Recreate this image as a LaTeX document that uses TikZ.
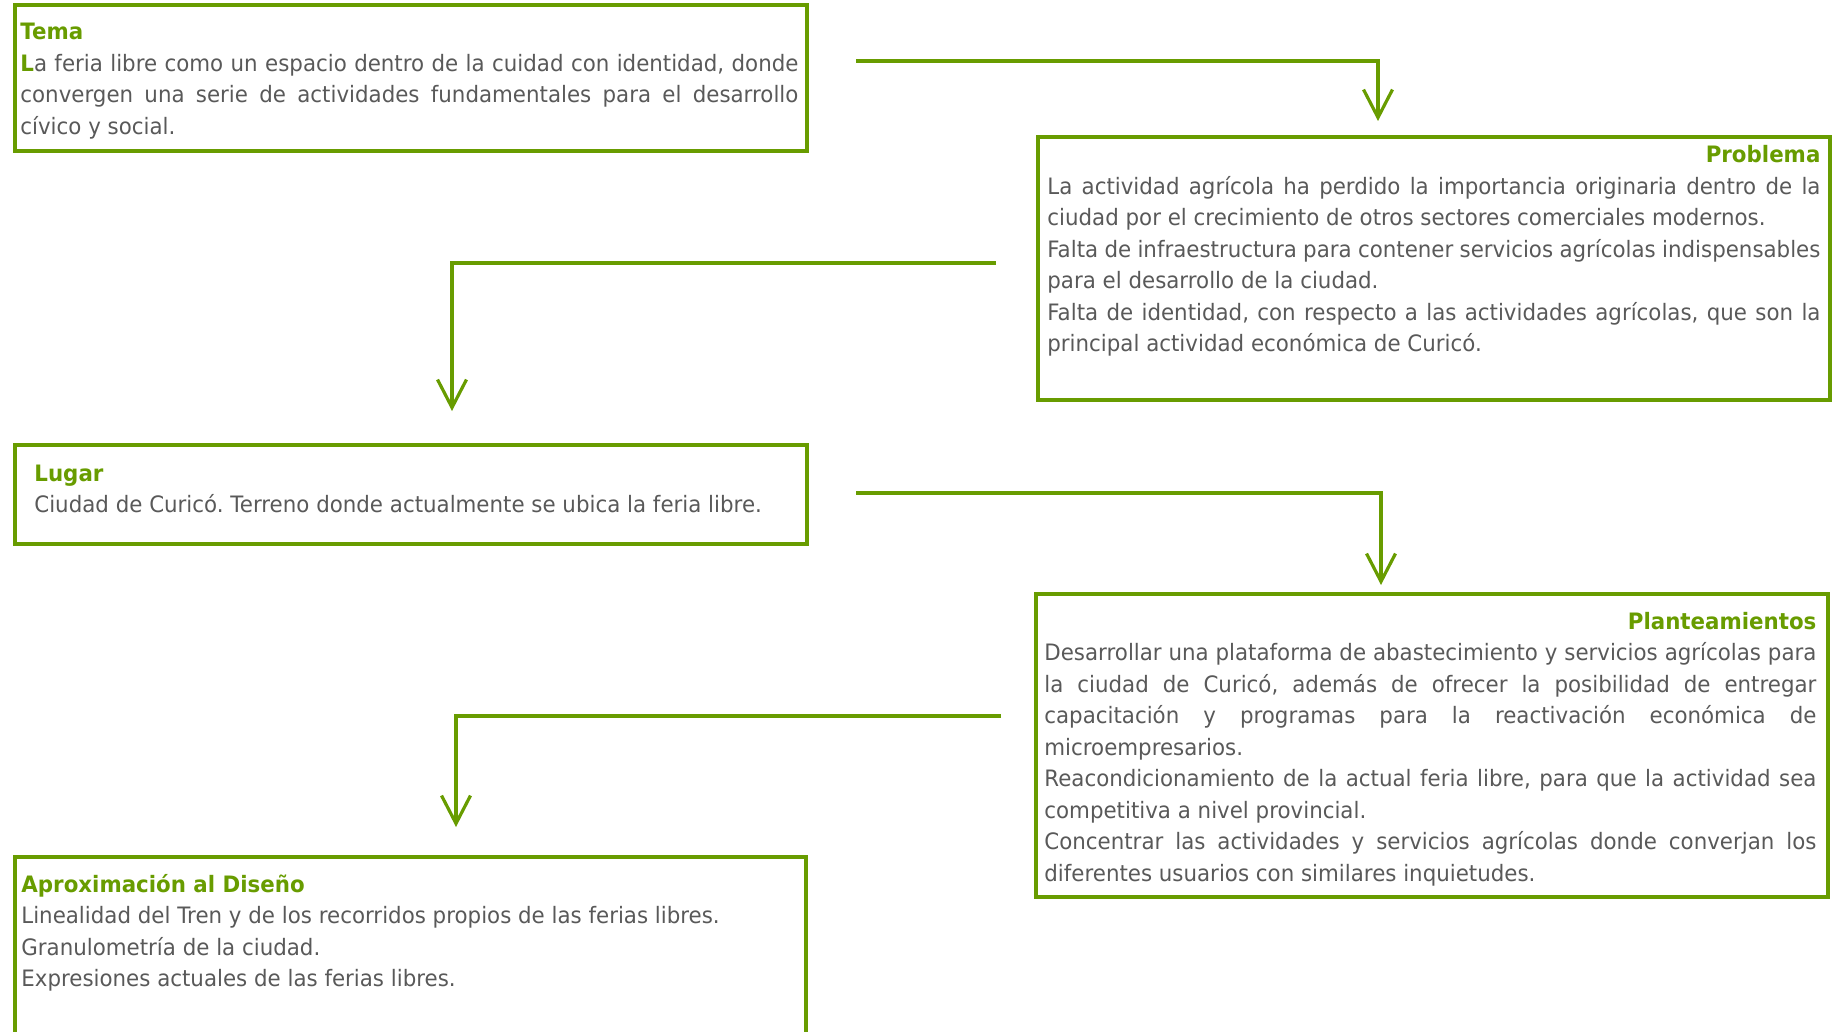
\documentclass[tikz,border=0pt]{standalone}
\usepackage{fontspec}
\setmainfont[FakeStretch=0.945]{DejaVu Sans}
\usepackage{xcolor}
\usepackage{tikz}
\usetikzlibrary{arrows.meta,positioning}
\frenchspacing

\definecolor{verde}{HTML}{689C00}
\definecolor{gris}{HTML}{595959}
\newcommand{\titulo}[1]{{\color{verde}\bfseries #1}}

\begin{document}
\begin{tikzpicture}[x=0.5pt,y=-0.5pt,
  caja/.style={draw=verde, line width=2pt, anchor=north west, inner sep=0pt},
  texto/.style={anchor=base west, inner sep=0pt, text=gris, align=justify,
    font=\fontsize{11.3pt}{15.75pt}\selectfont},
  flecha/.style={draw=verde, line width=1.6pt, -{Straight Barb[length=14pt,width=14.5pt]}}]
\useasboundingbox (0,0) rectangle (1832,1032);

%Cajas
\node[caja, minimum width=396.25pt, minimum height=72.75pt] (tema) at (12.5,3.5) {};
\node[caja, minimum width=396pt, minimum height=131.5pt] (problema) at (1036,135) {};
\node[caja, minimum width=396.25pt, minimum height=49.75pt] (lugar) at (12.5,442.5) {};
\node[caja, minimum width=396.25pt, minimum height=151.75pt] (plan) at (1033.5,591.5) {};
\node[caja, minimum width=395.75pt, minimum height=90pt] (aprox) at (12.5,854.5) {};

%Textos
\node[texto, text width=389pt] (temaT) at (20,40) {\titulo{Tema}\\
  \titulo{L}a feria libre como un espacio dentro de la cuidad con identidad, donde\linebreak
  convergen una serie de actividades fundamentales para el desarrollo\linebreak
  cívico y social.};
\node[texto, text width=386.5pt] (problemaT) at (1047,163) {\null\hfill\titulo{Problema}\\
  La actividad agrícola ha perdido la importancia originaria dentro de la\linebreak
  ciudad por el crecimiento de otros sectores comerciales modernos.\\
  Falta de infraestructura para contener servicios agrícolas indispensables\linebreak
  para el desarrollo de la ciudad.\\
  Falta de identidad, con respecto a las actividades agrícolas, que son la\linebreak
  principal actividad económica de Curicó.};
\node[texto, text width=380pt] (lugarT) at (34,481) {\titulo{Lugar}\\
  Ciudad de Curicó. Terreno donde actualmente se ubica la feria libre.};
\node[texto, text width=386pt] (planT) at (1044,629) {\null\hfill\titulo{Planteamientos}\\
  Desarrollar una plataforma de abastecimiento y servicios agrícolas para\linebreak
  la ciudad de Curicó, además de ofrecer la posibilidad de entregar\linebreak
  capacitación y programas para la reactivación económica de\linebreak
  microempresarios.\\
  Reacondicionamiento de la actual feria libre, para que la actividad sea\linebreak
  competitiva a nivel provincial.\\
  Concentrar las actividades y servicios agrícolas donde converjan los\linebreak
  diferentes usuarios con similares inquietudes.};
\node[texto, text width=389pt] (aproxT) at (21,892) {\titulo{Aproximación al Diseño}\\
  Linealidad del Tren y de los recorridos propios de las ferias libres.\\
  Granulometría de la ciudad.\\
  Expresiones actuales de las ferias libres.};

%Flechas
\coordinate (f1a) at (856,61);
\coordinate (f1b) at (1378,121);
\coordinate (f2a) at (996,263);
\coordinate (f2b) at (452,411);
\coordinate (f3a) at (856,493);
\coordinate (f3b) at (1381,585);
\coordinate (f4a) at (1001,716);
\coordinate (f4b) at (456,827);
\draw[flecha] (f1a) -| (f1b);
\draw[flecha] (f2a) -| (f2b);
\draw[flecha] (f3a) -| (f3b);
\draw[flecha] (f4a) -| (f4b);

\end{tikzpicture}
\end{document}
